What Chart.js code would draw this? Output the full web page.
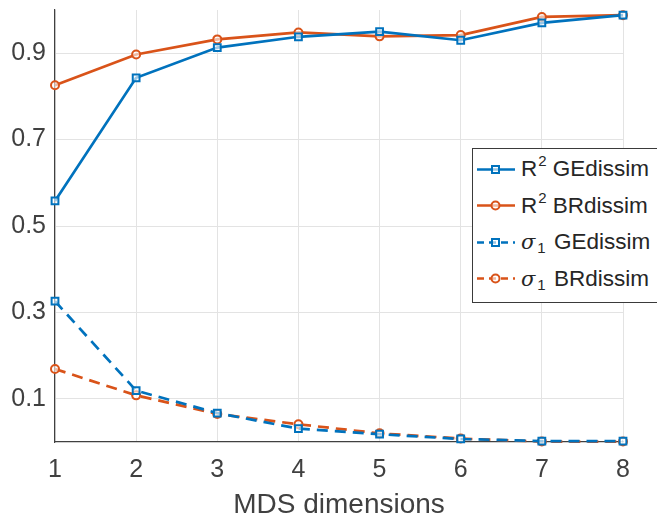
<!DOCTYPE html>
<html>
<head>
<meta charset="utf-8">
<script src="https://cdn.jsdelivr.net/npm/chart.js@4"></script>
<style>
  html, body { margin: 0; padding: 0; background: #fff; }
  #wrap { position: relative; width: 657px; height: 515px; overflow: hidden; }
  #legend {
    position: absolute; left: 472px; top: 148px; width: 200px; height: 155px;
    background: #fff; border: 1px solid #3a3a3a; box-sizing: border-box;
    font-family: "Liberation Sans", Arial, sans-serif; font-size: 22.5px; color: #262626;
    padding-top: 2px;
  }
  .row { display: flex; align-items: center; height: 36.5px; }
  .row svg { margin-left: 4px; margin-right: 6px; flex: none; }
  .row sup { font-size: 15px; position: relative; top: -3px; vertical-align: top; line-height: 1; margin-left: 1px; }
  .row sub { font-size: 15px; position: relative; top: 11px; vertical-align: top; line-height: 1; margin-left: 2px; margin-right: 2px; }
  .sig { font-family: "DejaVu Serif", serif; font-style: italic; font-size: 21px; }
</style>
</head>
<body>
<div id="wrap">
  <canvas id="mdsChart" width="657" height="515"></canvas>
  <div id="legend"></div>
</div>
<script>
document.addEventListener('DOMContentLoaded', () => {
    // MDS dimensions
    const dims = [1, 2, 3, 4, 5, 6, 7, 8];
    const r2GE = [0.558, 0.843, 0.913, 0.938, 0.950, 0.930, 0.970, 0.988];
    const r2BR = [0.826, 0.897, 0.932, 0.948, 0.939, 0.942, 0.984, 0.988];
    const sigmaGE = [0.326, 0.119, 0.067, 0.031, 0.018, 0.007, 0.002, 0.002];
    const sigmaBR = [0.169, 0.108, 0.065, 0.041, 0.020, 0.008, 0.001, 0.001];
    const yTicks = [0.1, 0.3, 0.5, 0.7, 0.9];

    const blue = '#0072BD';
    const orange = '#D95319';
    const tickColor = '#404040';

    const series = [
        { label: 'R<sup>2</sup> GEdissim', data: r2GE, color: blue, dash: [], style: 'rect' },
        { label: 'R<sup>2</sup> BRdissim', data: r2BR, color: orange, dash: [], style: 'circle' },
        { label: '<span class="sig">σ</span><sub>1</sub> GEdissim', data: sigmaGE, color: blue, dash: [11, 7], style: 'rect' },
        { label: '<span class="sig">σ</span><sub>1</sub> BRdissim', data: sigmaBR, color: orange, dash: [11, 7], style: 'circle' }
    ];

    const ctx = document.getElementById('mdsChart').getContext('2d');
    new Chart(ctx, {
        type: 'line',
        data: {
            datasets: series.map(s => ({
                label: s.label,
                data: dims.map((d, i) => ({ x: d, y: s.data[i] })),
                borderColor: s.color,
                backgroundColor: 'rgba(255,255,255,0.6)',
                borderWidth: 2.7,
                borderDash: s.dash,
                pointStyle: s.style,
                pointRadius: s.style === 'rect' ? 4.8 : 4,
                pointBorderWidth: 2,
                pointBorderColor: s.color,
                pointBackgroundColor: 'rgba(255,255,255,0.6)',
                tension: 0,
                clip: false
            }))
        },
        options: {
            responsive: false,
            animation: false,
            layout: { padding: { top: 10, right: 34, left: 0, bottom: 0 } },
            scales: {
                x: {
                    type: 'linear',
                    min: 1,
                    max: 8,
                    afterFit: scale => { scale.height = 73; },
                    ticks: {
                        stepSize: 1,
                        color: tickColor,
                        padding: 13,
                        font: { family: 'Liberation Sans', size: 25 }
                    },
                    grid: { color: '#e3e3e3', lineWidth: 1, drawTicks: false },
                    border: { display: true, color: '#404040', width: 1.2 },
                    title: {
                        display: true,
                        text: 'MDS dimensions',
                        color: tickColor,
                        padding: { top: -7, bottom: -7 },
                        font: { family: 'Liberation Sans', size: 28 }
                    }
                },
                y: {
                    min: 0,
                    max: 1,
                    afterFit: scale => {
                        scale.width = 55;
                        scale.paddingTop = 0;
                        scale.paddingBottom = 0;
                    },
                    afterBuildTicks: scale => { scale.ticks = yTicks.map(v => ({ value: v })); },
                    ticks: {
                        color: tickColor,
                        padding: 9,
                        font: { family: 'Liberation Sans', size: 25 },
                        callback: v => v.toFixed(1)
                    },
                    grid: { color: '#e3e3e3', lineWidth: 1, drawTicks: false },
                    border: { display: true, color: '#404040', width: 1.2 }
                }
            },
            plugins: {
                legend: { display: false },
                tooltip: { enabled: false }
            }
        }
    });

    // legend with superscripts / subscripts as real text
    const legend = document.getElementById('legend');
    series.forEach(s => {
        const row = document.createElement('div');
        row.className = 'row';
        const marker = s.style === 'rect'
            ? `<rect x="15" y="7" width="7" height="7" fill="rgba(255,255,255,0.6)" stroke="${s.color}" stroke-width="2"/>`
            : `<circle cx="18.5" cy="10.5" r="4" fill="rgba(255,255,255,0.6)" stroke="${s.color}" stroke-width="2"/>`;
        const dash = s.dash.length ? 'stroke-dasharray="7 5"' : '';
        row.innerHTML =
            `<svg width="38" height="21"><line x1="0" y1="10.5" x2="38" y2="10.5" stroke="${s.color}" stroke-width="2.7" ${dash}/>${marker}</svg>` +
            `<span>${s.label}</span>`;
        legend.appendChild(row);
    });
});
</script>
</body>
</html>
